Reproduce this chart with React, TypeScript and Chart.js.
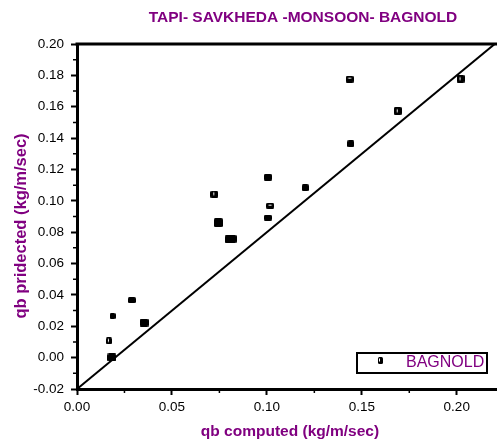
import React, { useEffect, useRef } from "react";
import { Chart, registerables } from "chart.js";
Chart.register(...registerables);

const chartTitle = "TAPI- SAVKHEDA -MONSOON- BAGNOLD";
const xTitle = "qb computed (kg/m/sec)";
const yTitle = "qb pridected (kg/m/sec)";
const seriesName = "BAGNOLD";

const qbComputed = [0.1436, 0.202, 0.1689, 0.1442, 0.1202, 0.1005, 0.0723, 0.1017, 0.1005, 0.0744, 0.0798, 0.0819, 0.0289, 0.0187, 0.0353, 0.0168, 0.0184];
const qbPredicted = [0.1776, 0.1779, 0.1574, 0.1364, 0.1084, 0.1151, 0.1042, 0.0969, 0.0893, 0.0861, 0.0755, 0.0758, 0.0367, 0.0266, 0.0224, 0.0107, 0.0001];

const refLineX = [0, 0.2212];
const refLineY = [-0.02, 0.2012];

const xTickValues = [0, 0.05, 0.1, 0.15, 0.2];
const xMinorValues = [0.025, 0.075, 0.125, 0.175];
const yTickValues = [-0.02, 0, 0.02, 0.04, 0.06, 0.08, 0.1, 0.12, 0.14, 0.16, 0.18, 0.2];
const yMinorValues = [-0.01, 0.01, 0.03, 0.05, 0.07, 0.09, 0.11, 0.13, 0.15, 0.17, 0.19];

// marker look per point: [width, height, slit]
const markerLook: [number, number, string][] = [
  [8, 7, "h"], [8, 8, "v"], [8, 8, "v"], [7, 7, ""], [7, 7, ""], [8, 7, ""], [8, 7, "v"], [8, 6, "h"],
  [8, 6, ""], [9, 9, ""], [8, 8, ""], [8, 8, ""], [8, 6, ""], [6, 6, ""], [9, 8, ""], [6, 7, "v"], [9, 8, ""],
];

const PURPLE = "#800080";
const FONT = "'Liberation Sans', Arial, sans-serif";

function makeMarker(w: number, h: number, slit: string): HTMLCanvasElement {
  const c = document.createElement("canvas");
  c.width = w;
  c.height = h;
  const ctx = c.getContext("2d")!;
  const r = 1.5;
  ctx.fillStyle = "#000";
  ctx.beginPath();
  ctx.moveTo(r, 0);
  ctx.lineTo(w - r, 0);
  ctx.quadraticCurveTo(w, 0, w, r);
  ctx.lineTo(w, h - r);
  ctx.quadraticCurveTo(w, h, w - r, h);
  ctx.lineTo(r, h);
  ctx.quadraticCurveTo(0, h, 0, h - r);
  ctx.lineTo(0, r);
  ctx.quadraticCurveTo(0, 0, r, 0);
  ctx.fill();
  ctx.fillStyle = "#fff";
  const cx = Math.floor(w / 2);
  const cy = Math.floor(h / 2);
  if (slit === "v") ctx.fillRect(cx - 1, cy - 1.5, 1, 3);
  if (slit === "h") ctx.fillRect(cx - 1.5, cy - 1, 3, 1);
  return c;
}

export default function App() {
  const ref = useRef<HTMLCanvasElement>(null);
  useEffect(() => {
    if (!ref.current) return;
    const markers = markerLook.map(([w, h, s]) => makeMarker(w, h, s));
    const legendMarker = makeMarker(5, 7, "v");

    const decor = {
      id: "decor",
      afterDraw(chart: any) {
        const { ctx, chartArea, scales } = chart;
        ctx.save();
        // top border
        ctx.strokeStyle = "#000";
        ctx.lineWidth = 3;
        ctx.beginPath();
        ctx.moveTo(chartArea.left - 1.5, chartArea.top);
        ctx.lineTo(chartArea.right, chartArea.top);
        ctx.stroke();
        // minor ticks
        ctx.lineWidth = 1.5;
        ctx.beginPath();
        xMinorValues.forEach((v) => {
          const px = scales.x.getPixelForValue(v);
          ctx.moveTo(px, chartArea.bottom);
          ctx.lineTo(px, chartArea.bottom + 4);
        });
        yMinorValues.forEach((v) => {
          const py = scales.y.getPixelForValue(v);
          ctx.moveTo(chartArea.left, py);
          ctx.lineTo(chartArea.left - 4, py);
        });
        ctx.stroke();
        // title
        ctx.fillStyle = PURPLE;
        ctx.textAlign = "center";
        ctx.textBaseline = "middle";
        ctx.font = `bold 15.5px ${FONT}`;
        ctx.fillText(chartTitle, 303, 18);
        // axis titles
        ctx.fillText(xTitle, 290, 432);
        ctx.save();
        ctx.translate(21, 226);
        ctx.rotate(-Math.PI / 2);
        ctx.font = `bold 16.5px ${FONT}`;
        ctx.fillText(yTitle, 0, 0);
        ctx.restore();
        // legend
        ctx.fillStyle = "#fff";
        ctx.fillRect(357, 353, 130, 20);
        ctx.strokeStyle = "#000";
        ctx.lineWidth = 2;
        ctx.strokeRect(357, 353, 130, 20);
        ctx.drawImage(legendMarker, 378, 357);
        ctx.fillStyle = PURPLE;
        ctx.textAlign = "left";
        ctx.font = `16px ${FONT}`;
        ctx.fillText(seriesName, 406, 363);
        ctx.restore();
      },
    };

    const chart = new Chart(ref.current, {
      type: "scatter",
      data: {
        datasets: [
          {
            type: "line",
            label: "ref",
            data: refLineX.map((x, i) => ({ x, y: refLineY[i] })),
            borderColor: "#000",
            borderWidth: 2,
            pointRadius: 0,
            fill: false,
            order: 2,
          } as any,
          {
            label: seriesName,
            data: qbComputed.map((x, i) => ({ x, y: qbPredicted[i] })),
            pointStyle: markers as any,
            pointRadius: 5,
            backgroundColor: "#000",
            borderColor: "#000",
            order: 1,
          },
        ],
      },
      options: {
        animation: false,
        responsive: true,
        maintainAspectRatio: false,
        layout: { autoPadding: false, padding: { top: 44, left: 0, right: 0, bottom: 0 } },
        plugins: { legend: { display: false }, tooltip: { enabled: false }, title: { display: false } },
        scales: {
          x: {
            type: "linear",
            min: 0,
            max: 0.2212,
            afterBuildTicks: (s: any) => {
              s.ticks = xTickValues.map((v) => ({ value: v }));
            },
            afterFit: (s: any) => {
              s.height = 51;
              s.paddingLeft = 0;
              s.paddingRight = 0;
            },
            ticks: {
              callback: (v: any) => Number(v).toFixed(2),
              color: "#000",
              font: { family: FONT, size: 13.5 },
              padding: 4,
              maxRotation: 0,
            },
            grid: { drawOnChartArea: false, drawTicks: true, tickLength: 6, tickWidth: 2, tickColor: "#000" },
            border: { color: "#000", width: 3 },
          },
          y: {
            type: "linear",
            min: -0.02,
            max: 0.2,
            afterBuildTicks: (s: any) => {
              s.ticks = yTickValues.map((v) => ({ value: v }));
            },
            afterFit: (s: any) => {
              s.width = 77;
              s.paddingTop = 0;
              s.paddingBottom = 0;
            },
            ticks: {
              callback: (v: any) => Number(v).toFixed(2),
              color: "#000",
              font: { family: FONT, size: 13.5 },
              padding: 7,
            },
            grid: { drawOnChartArea: false, drawTicks: true, tickLength: 6, tickWidth: 2, tickColor: "#000" },
            border: { color: "#000", width: 3 },
          },
        },
      },
      plugins: [decor],
    });
    return () => chart.destroy();
  }, []);

  return (
    <div style={{ position: "absolute", left: 0, top: 0, width: 497, height: 440, background: "#fff" }}>
      <canvas ref={ref} />
    </div>
  );
}
